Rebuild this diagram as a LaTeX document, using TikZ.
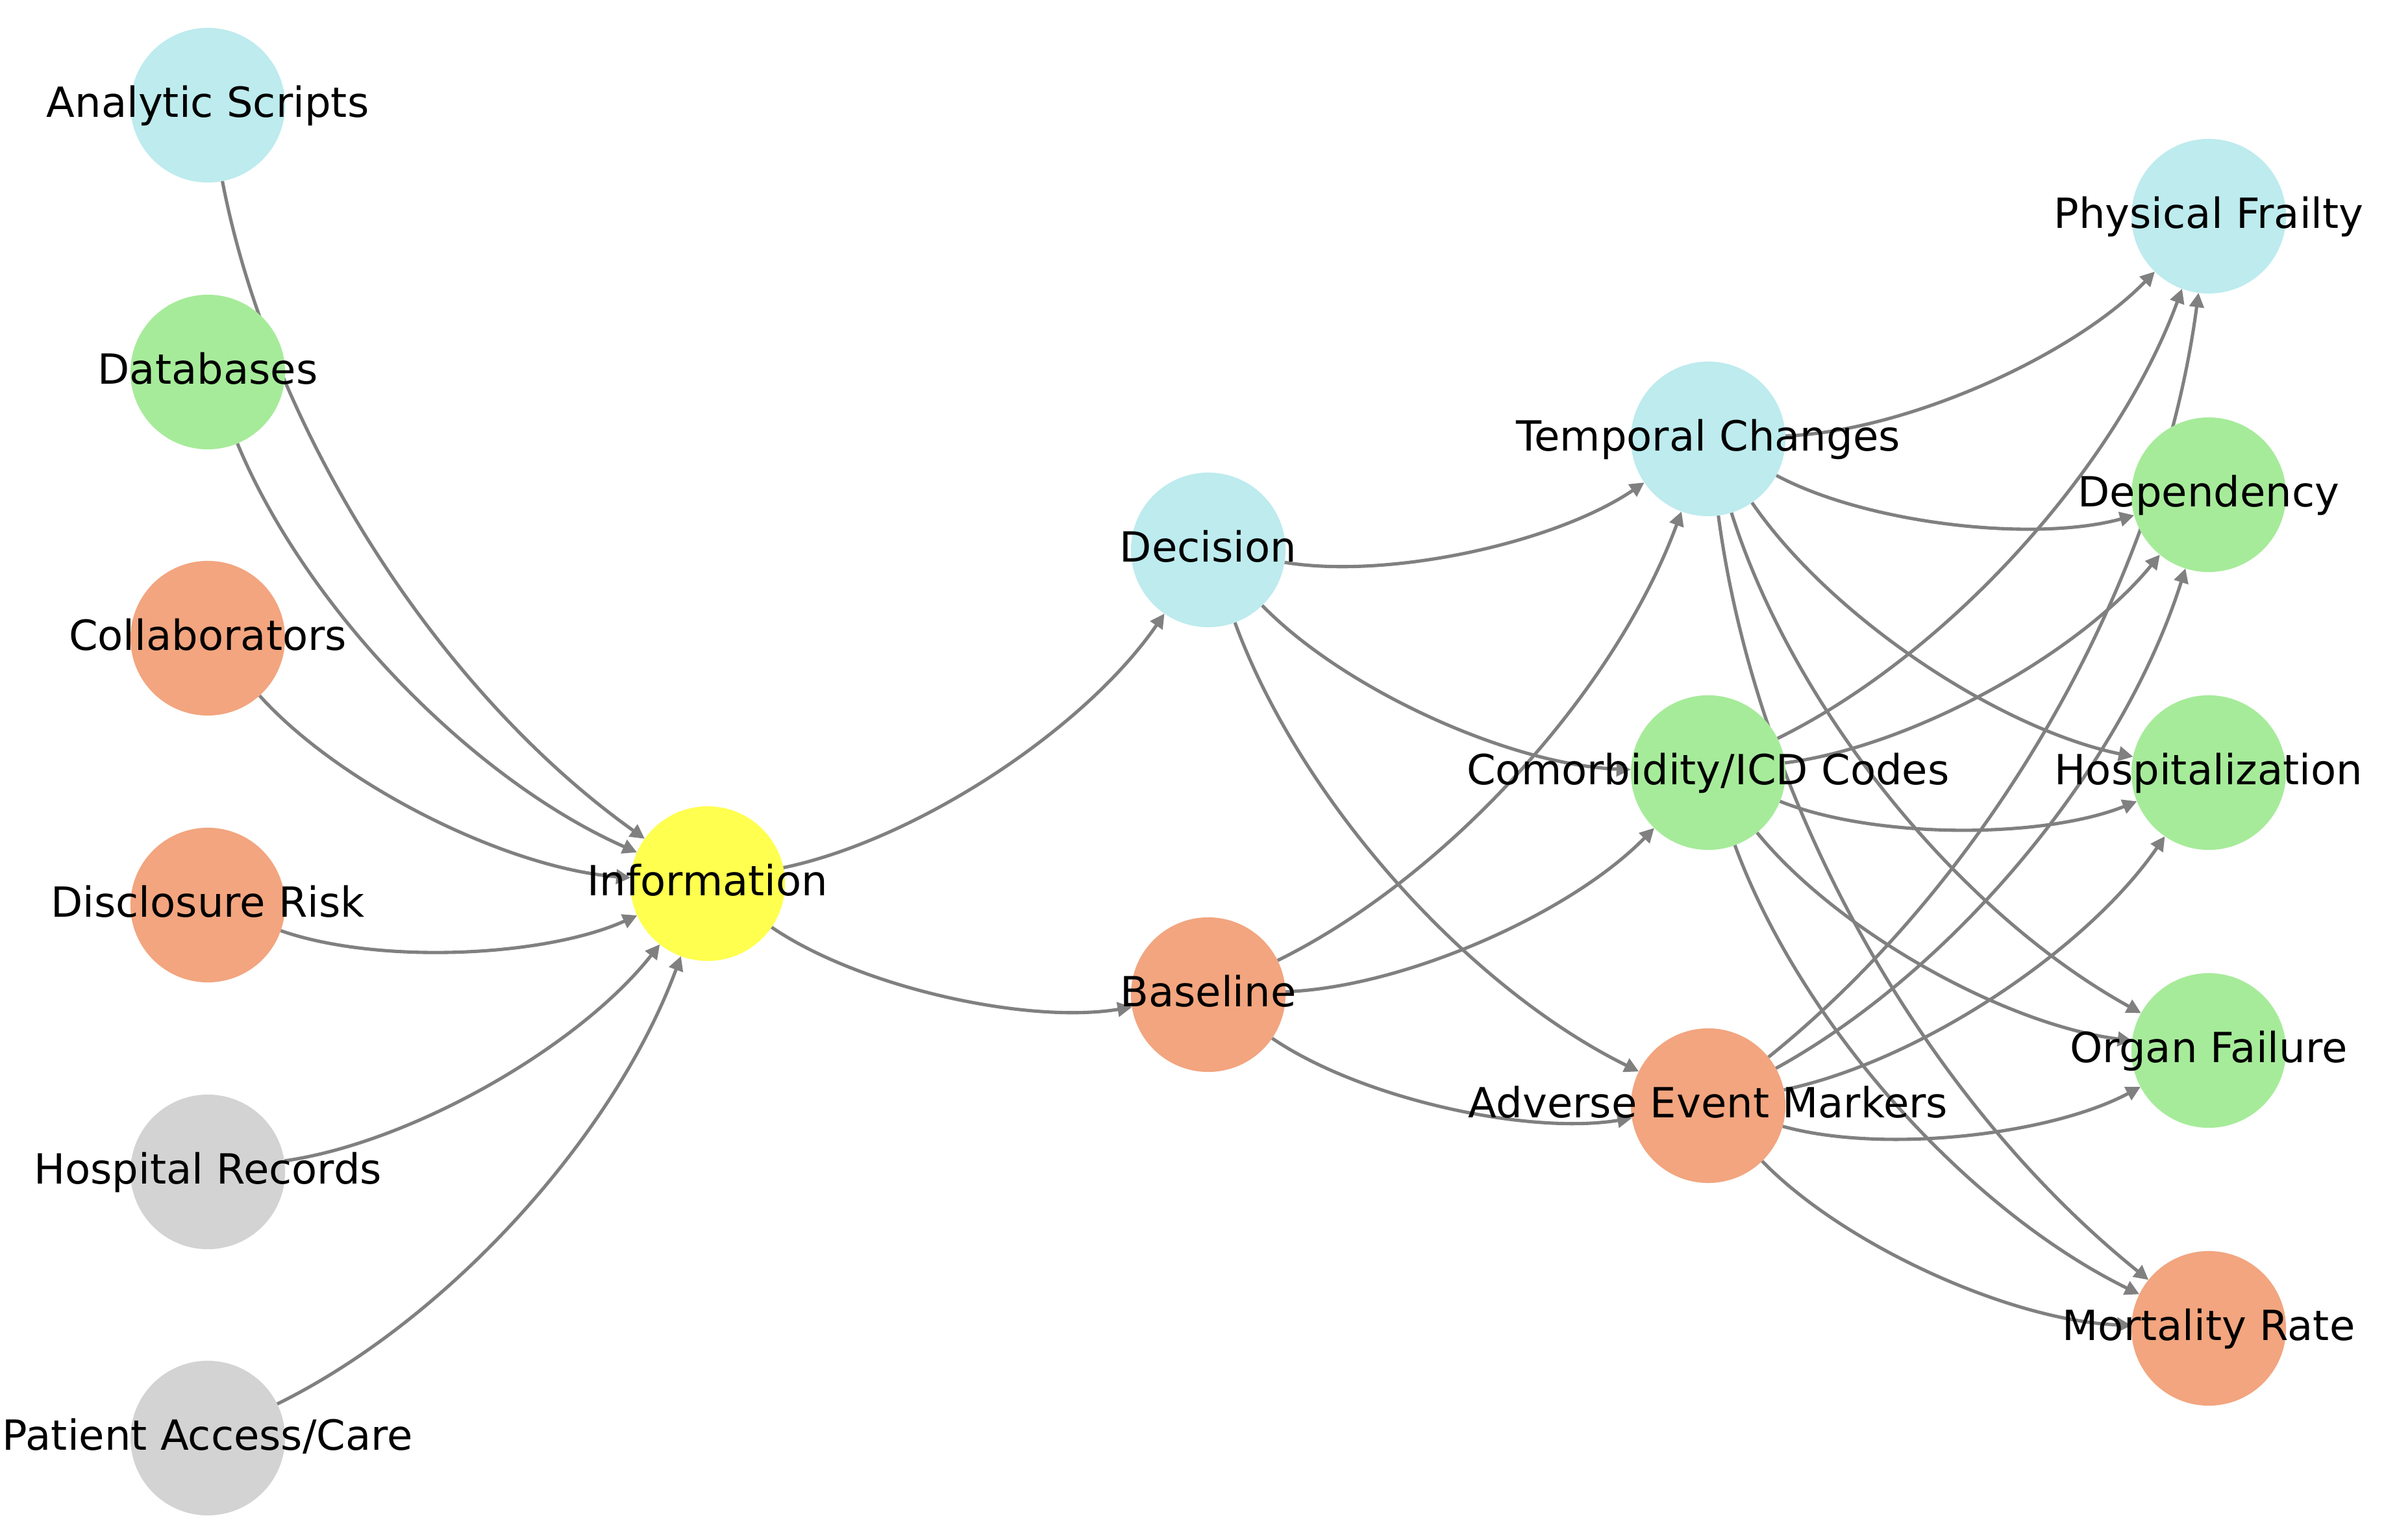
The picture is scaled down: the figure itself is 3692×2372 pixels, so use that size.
\documentclass[tikz,border=0pt]{standalone}
\usepackage{fontspec}
\setmainfont{DejaVu Sans}
\usetikzlibrary{arrows.meta}
\definecolor{cblue}{HTML}{BDEBEE}
\definecolor{cgreen}{HTML}{A6EB9A}
\definecolor{csalmon}{HTML}{F2A57F}
\definecolor{cyellow}{HTML}{FFFF4F}
\definecolor{cgray}{HTML}{D3D3D3}
\definecolor{cedge}{HTML}{808080}
\pgfdeclarelayer{bglayer}
\pgfdeclarelayer{edgelayer}
\pgfsetlayers{bglayer,edgelayer,main}
\tikzset{
  nd/.style={circle, inner sep=0pt, minimum size=2.38cm, draw=none},
  lbl/.style={anchor=base, inner sep=0pt, font=\fontsize{18.2pt}{22pt}\selectfont, text=black},
  conn/.style={draw=cedge, line width=1.45pt, -{Triangle[length=6.3pt,width=6.3pt]},
    bend right=21.8, looseness=0.917, shorten <=1.19cm, shorten >=1.19cm}
}
\begin{document}
\begin{tikzpicture}[x=0.01cm,y=-0.01cm]
\begin{pgfonlayer}{bglayer}
\fill[white] (0,0) rectangle (3692,2372);
\end{pgfonlayer}
\useasboundingbox (0,0) rectangle (3692,2372);
% circles
\node[nd,fill=cblue]   (as)   at (320,162)  {};
\node[nd,fill=cgreen]  (db)   at (320,573)  {};
\node[nd,fill=csalmon] (co)   at (320,983)  {};
\node[nd,fill=csalmon] (dr)   at (320,1394) {};
\node[nd,fill=cgray]   (hr)   at (320,1805) {};
\node[nd,fill=cgray]   (pa)   at (320,2215) {};
\node[nd,fill=cyellow] (info) at (1090,1361) {};
\node[nd,fill=cblue]   (dec)  at (1861,847) {};
\node[nd,fill=csalmon] (base) at (1861,1532) {};
\node[nd,fill=cblue]   (tc)   at (2631,676) {};
\node[nd,fill=cgreen]  (cm)   at (2631,1190) {};
\node[nd,fill=csalmon] (ae)   at (2631,1703) {};
\node[nd,fill=cblue]   (pf)   at (3402,333) {};
\node[nd,fill=cgreen]  (dep)  at (3402,762) {};
\node[nd,fill=cgreen]  (hos)  at (3402,1190) {};
\node[nd,fill=cgreen]  (of)   at (3402,1618) {};
\node[nd,fill=csalmon] (mr)   at (3402,2046) {};
% labels
\node[lbl] (as-l)   at ([yshift=-0.18cm]as.center)   {Analytic Scripts};
\node[lbl] (db-l)   at ([yshift=-0.18cm]db.center)   {Databases};
\node[lbl] (co-l)   at ([yshift=-0.18cm]co.center)   {Collaborators};
\node[lbl] (dr-l)   at ([yshift=-0.18cm]dr.center)   {Disclosure Risk};
\node[lbl] (hr-l)   at ([yshift=-0.18cm]hr.center)   {Hospital Records};
\node[lbl] (pa-l)   at ([yshift=-0.18cm]pa.center)   {Patient Access/Care};
\node[lbl] (info-l) at ([yshift=-0.18cm]info.center) {Information};
\node[lbl] (dec-l)  at ([yshift=-0.18cm]dec.center)  {Decision};
\node[lbl] (base-l) at ([yshift=-0.18cm]base.center) {Baseline};
\node[lbl] (tc-l)   at ([yshift=-0.18cm]tc.center)   {Temporal Changes};
\node[lbl] (cm-l)   at ([yshift=-0.18cm]cm.center)   {Comorbidity/ICD Codes};
\node[lbl] (ae-l)   at ([yshift=-0.18cm]ae.center)   {Adverse Event Markers};
\node[lbl] (pf-l)   at ([yshift=-0.18cm]pf.center)   {Physical Frailty};
\node[lbl] (dep-l)  at ([yshift=-0.18cm]dep.center)  {Dependency};
\node[lbl] (hos-l)  at ([yshift=-0.18cm]hos.center)  {Hospitalization};
\node[lbl] (of-l)   at ([yshift=-0.18cm]of.center)   {Organ Failure};
\node[lbl] (mr-l)   at ([yshift=-0.18cm]mr.center)   {Mortality Rate};
% edges
\begin{pgfonlayer}{edgelayer}
\foreach \s in {as,db,co,dr,hr,pa} \draw[conn] (\s.center) to (info.center);
\draw[conn] (info.center) to (dec.center);
\draw[conn] (info.center) to (base.center);
\foreach \s in {dec,base} \foreach \t in {tc,cm,ae} \draw[conn] (\s.center) to (\t.center);
\foreach \s in {tc,cm,ae} \foreach \t in {pf,dep,hos,of,mr} \draw[conn] (\s.center) to (\t.center);
\end{pgfonlayer}
\end{tikzpicture}
\end{document}
